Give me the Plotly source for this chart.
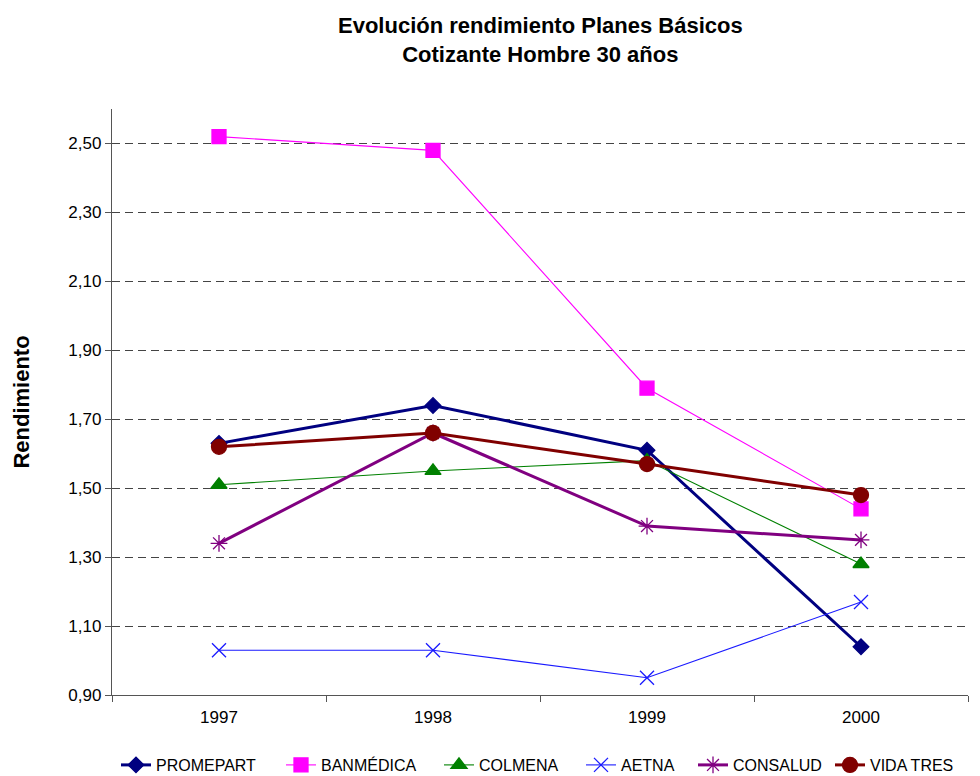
import plotly.graph_objects as go

years = ["1997", "1998", "1999", "2000"]
promepart = [1.63, 1.74, 1.61, 1.04]
banmedica = [2.52, 2.48, 1.79, 1.44]
colmena = [1.51, 1.55, 1.58, 1.28]
aetna = [1.03, 1.03, 0.95, 1.17]
consalud = [1.34, 1.66, 1.39, 1.35]
vida_tres = [1.62, 1.66, 1.57, 1.48]

series = [
    ("PROMEPART", promepart, "#000080", 3, "diamond", 12),
    ("BANMÉDICA", banmedica, "#FF00FF", 1.1, "square", 14),
    ("COLMENA", colmena, "#008000", 1.1, "triangle-up", 14),
    ("AETNA", aetna, "#1A1AFF", 1.1, "x-thin-open", 14),
    ("CONSALUD", consalud, "#800080", 3, "asterisk-open", 14),
    ("VIDA TRES", vida_tres, "#800000", 3, "circle", 15),
]
legend_left = [122, 287, 445, 587, 699, 836]

fig = go.Figure()
legend_layout = {}
for i, (name, vals, color, lw, sym, ms) in enumerate(series):
    lid = "legend" if i == 0 else f"legend{i + 1}"
    fig.add_trace(go.Scatter(
        x=years, y=vals, name=name, mode="lines+markers",
        line=dict(color=color, width=lw),
        marker=dict(symbol=sym, size=ms, color=color,
                    line=dict(color=color, width=1.3)),
        legend=lid,
    ))
    legend_layout[lid] = dict(
        orientation="h", x=(legend_left[i] - 6) / 980, xanchor="left", xref="container",
        y=(776 - 765) / 776, yanchor="middle", yref="container",
        font=dict(size=16), itemwidth=30, bgcolor="rgba(0,0,0,0)",
    )

fig.update_layout(
    width=980, height=776,
    paper_bgcolor="white", plot_bgcolor="white",
    margin=dict(l=112, r=12, t=109, b=81),
    separators=",.",
    font=dict(family="Liberation Sans, Arial, sans-serif", size=17, color="black"),
    showlegend=True,
    annotations=[
        dict(text="<b>Evolución rendimiento Planes Básicos</b><br><b>Cotizante Hombre 30 años</b>",
             xref="paper", yref="paper", x=0.5, y=1.0 + (109 - 40) / 586,
             xanchor="center", yanchor="middle", showarrow=False,
             font=dict(size=22)),
    ],
    **legend_layout,
)

fig.update_xaxes(
    type="category", range=[-0.5, 3.5], automargin=False,
    showline=True, linecolor="#555", linewidth=1.3,
    ticks="outside", tickson="boundaries", ticklen=6, tickcolor="#555",
    showgrid=False, tickfont=dict(size=17), ticklabelstandoff=6,
)
fig.update_yaxes(
    range=[0.9, 2.6], tick0=0.9, dtick=0.2, tickformat=".2f", automargin=False,
    showline=True, linecolor="#555", linewidth=1.3,
    ticks="outside", ticklen=6, tickcolor="#555",
    showgrid=True, gridcolor="#444", gridwidth=1, griddash="8px,5px",
    zeroline=False, tickfont=dict(size=17),
    title=dict(text="<b>Rendimiento</b>", font=dict(size=22), standoff=32),
)

fig.write_html("out.html", config={"displayModeBar": False},
               post_script="document.body.style.margin='0';")
